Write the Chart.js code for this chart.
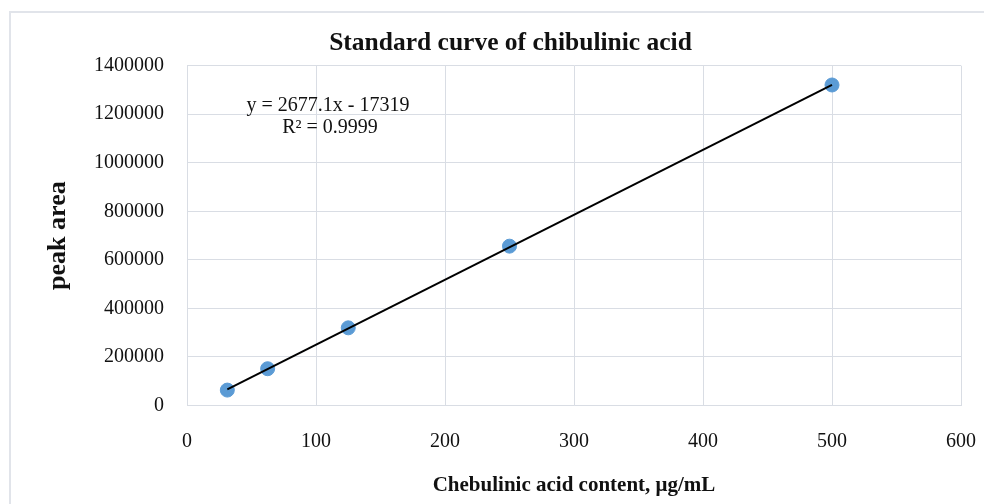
<!DOCTYPE html>
<html>
<head>
<meta charset="utf-8">
<script src="https://cdn.jsdelivr.net/npm/chart.js@4/dist/chart.umd.min.js"></script>
<style>
  html, body { margin: 0; padding: 0; background: #fff; }
  #wrap { width: 984px; height: 504px; position: relative; }
</style>
</head>
<body>
<div id="wrap"><canvas id="c" width="984" height="504"></canvas></div>
<script>
// ---- data ----
const concentrations = [31.25, 62.5, 125, 250, 500];          // µg/mL
const peakAreas      = [63500, 151500, 320000, 656500, 1320500];
const trendSlope     = 2677.1;
const trendIntercept = -17319;
const trendRange     = [31.25, 500];
const xTicks = [0, 100, 200, 300, 400, 500, 600];
const yTicks = [0, 200000, 400000, 600000, 800000, 1000000, 1200000, 1400000];
const titleText  = 'Standard curve of chibulinic acid';
const xTitleText = 'Chebulinic acid content, μg/mL';
const yTitleText = 'peak area';
const equationLines = ['y = 2677.1x - 17319', 'R² = 0.9999'];

const pointData = concentrations.map((x, i) => ({ x: x, y: peakAreas[i] }));
const trendData = trendRange.map(x => ({ x: x, y: trendSlope * x + trendIntercept }));

const SERIF = '"Liberation Serif", "Times New Roman", serif';
const GRID = '#d9dde4';

const framePlugin = {
  id: 'frame',
  beforeDraw(chart) {
    const ctx = chart.ctx;
    ctx.save();
    ctx.strokeStyle = '#e1e4ea';
    ctx.lineWidth = 2;
    ctx.beginPath();
    ctx.moveTo(10, 520);
    ctx.lineTo(10, 12);
    ctx.lineTo(1000, 12);
    ctx.stroke();
    ctx.restore();
  }
};

const equationPlugin = {
  id: 'equation',
  afterDatasetsDraw(chart) {
    const ctx = chart.ctx;
    const a = chart.chartArea;
    ctx.save();
    ctx.font = '20px ' + SERIF;
    ctx.fillStyle = '#111';
    ctx.textAlign = 'center';
    ctx.textBaseline = 'middle';
    ctx.fillText(equationLines[0], a.left + 141, a.top + 40);
    ctx.fillText(equationLines[1], a.left + 143, a.top + 62);
    ctx.restore();
  }
};

new Chart(document.getElementById('c'), {
  type: 'scatter',
  data: {
    datasets: [
      {
        label: 'Linear trend',
        type: 'line',
        data: trendData,
        borderColor: '#000',
        borderWidth: 2,
        pointRadius: 0,
        fill: false,
        order: 0
      },
      {
        label: 'Peak area',
        data: pointData,
        backgroundColor: '#5b9bd5',
        borderColor: '#5b9bd5',
        borderWidth: 1,
        pointRadius: 7,
        order: 1
      }
    ]
  },
  options: {
    responsive: false,
    animation: false,
    devicePixelRatio: 1,
    layout: { padding: { left: 60, right: 23, top: 0, bottom: 0 } },
    plugins: {
      legend: { display: false },
      tooltip: { enabled: false },
      title: {
        display: true,
        text: titleText,
        color: '#111',
        font: { family: SERIF, size: 25.5, weight: 'bold', lineHeight: 1.2 },
        padding: { top: 27.7, bottom: 7.4 }
      }
    },
    scales: {
      x: {
        type: 'linear',
        min: 0, max: 600,
        afterBuildTicks(scale) { scale.ticks = xTicks.map(v => ({ value: v })); },
        afterFit(scale) { scale.height = 98.5; scale.paddingLeft = 0; scale.paddingRight = 0; },
        ticks: { color: '#111', padding: 24, font: { family: SERIF, size: 20 } },
        grid: { color: GRID, lineWidth: 1, drawTicks: false },
        border: { color: GRID },
        title: {
          display: true,
          text: xTitleText,
          color: '#111',
          font: { family: SERIF, size: 21, weight: 'bold', lineHeight: 1.2 },
          padding: { top: 0, bottom: 5.4 }
        }
      },
      y: {
        type: 'linear',
        min: 0, max: 1400000,
        afterBuildTicks(scale) { scale.ticks = yTicks.map(v => ({ value: v })); },
        afterFit(scale) { scale.width = 127; scale.paddingTop = 0; scale.paddingBottom = 0; },
        ticks: { color: '#111', padding: 23, font: { family: SERIF, size: 20 },
                 callback: v => String(v) },
        grid: { color: GRID, lineWidth: 1, drawTicks: false },
        border: { color: GRID },
        title: {
          display: true,
          text: yTitleText,
          color: '#111',
          font: { family: SERIF, size: 26, weight: 'bold', lineHeight: 1.2 },
          padding: { top: -17.6, bottom: 0 }
        }
      }
    }
  },
  plugins: [framePlugin, equationPlugin]
});
</script>
</body>
</html>
